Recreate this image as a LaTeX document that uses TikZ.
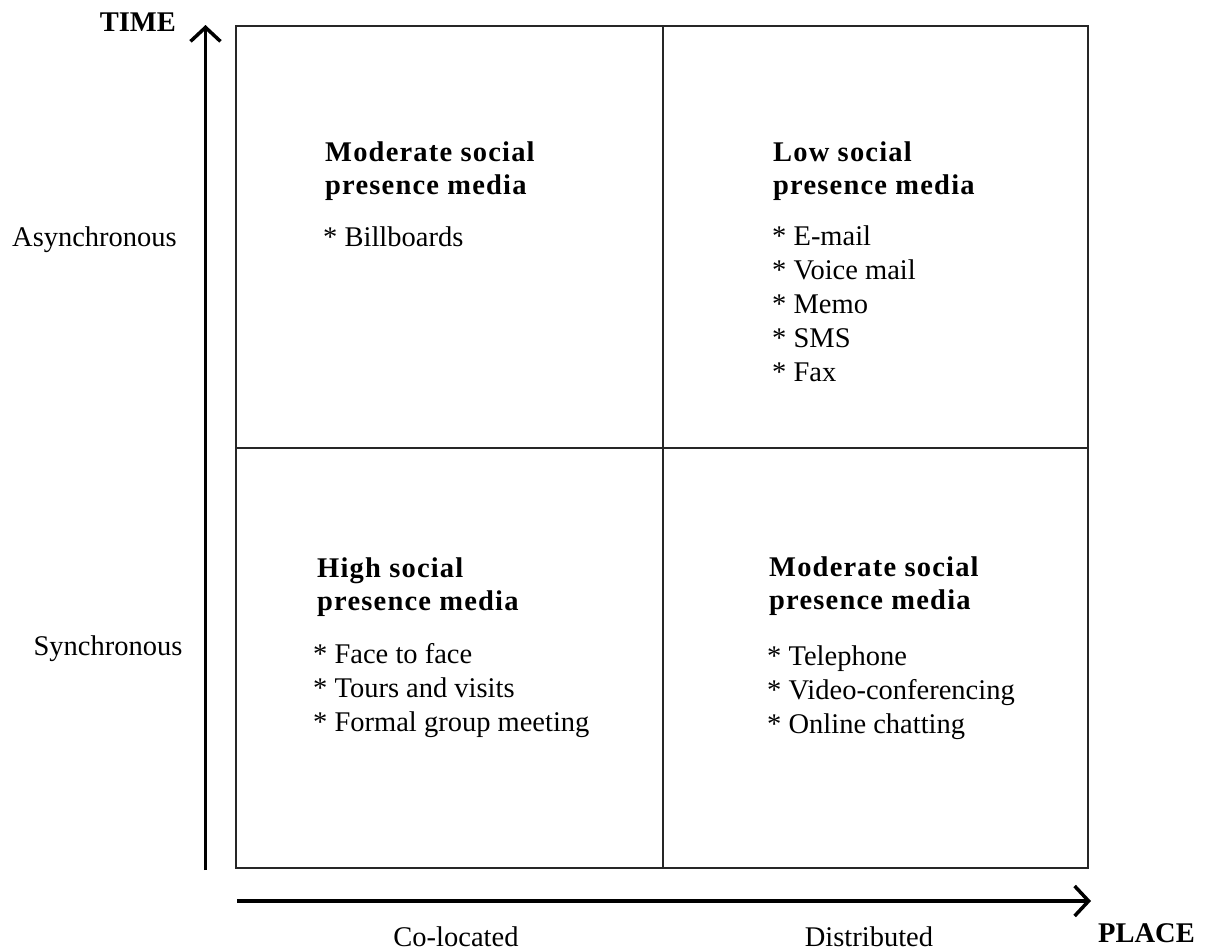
\documentclass[tikz,border=0pt]{standalone}
\usepackage{fontspec}
\setmainfont{Liberation Serif}
\newfontfamily\hdfont[LetterSpace=4.2]{Liberation Serif}
\usetikzlibrary{arrows.meta}
\tikzset{
  reg/.style={font=\fontsize{28.5}{34}\selectfont, inner sep=0pt},
  hd/.style={font=\fontsize{28.5}{34}\selectfont\bfseries, inner sep=0pt},
  qhd/.style={font=\fontsize{28.5}{34}\selectfont\hdfont\bfseries, inner sep=0pt},
  axis/.style={line width=3.5pt, -{Straight Barb[length=14pt,width=30pt,line width=3.5pt]}},
  grid/.style={line width=1.6pt, draw=black!85}
}
\begin{document}
\begin{tikzpicture}[x=1pt,y=-1pt]
\useasboundingbox (0,0) rectangle (1206,951);
% quadrant frame
\draw[grid] (236,26) rectangle (1088,868);
\draw[grid] (663,26) -- (663,868);
\draw[grid] (236,448) -- (1088,448);
% axes
\coordinate (vs) at (205.5,870);
\coordinate (ve) at (205.5,25);
\coordinate (hs) at (237,901);
\coordinate (he) at (1091,901);
\draw[axis] (vs) -- (ve);
\draw[axis] (hs) -- (he);
% axis labels
\node[hd, anchor=base east] (time) at (176,31) {TIME};
\node[hd, anchor=base west] (place) at (1098,942) {PLACE};
\node[reg, anchor=base] (async) at (94.5,246) {Asynchronous};
\node[reg, anchor=base] (sync) at (108,655) {Synchronous};
\node[reg, anchor=base] (coloc) at (456,946) {Co-located};
\node[reg, anchor=base] (distr) at (869,946) {Distributed};
% top left
\node[qhd, anchor=base west] (tlh1) at (325,161) {Moderate social};
\node[qhd, anchor=base west] (tlh2) at (325,194) {presence media};
\node[reg, anchor=base west] (tli1) at (323,246) {* Billboards};
% top right
\node[qhd, anchor=base west] (trh1) at (773,161) {Low social};
\node[qhd, anchor=base west] (trh2) at (773,194) {presence media};
\node[reg, anchor=base west] (tri1) at (772,245) {* E-mail};
\node[reg, anchor=base west] (tri2) at (772,279) {* Voice mail};
\node[reg, anchor=base west] (tri3) at (772,313) {* Memo};
\node[reg, anchor=base west] (tri4) at (772,347) {* SMS};
\node[reg, anchor=base west] (tri5) at (772,381) {* Fax};
% bottom left
\node[qhd, anchor=base west] (blh1) at (317,577) {High social};
\node[qhd, anchor=base west] (blh2) at (317,610) {presence media};
\node[reg, anchor=base west] (bli1) at (313,663) {* Face to face};
\node[reg, anchor=base west] (bli2) at (313,697) {* Tours and visits};
\node[reg, anchor=base west] (bli3) at (313,731) {* Formal group meeting};
% bottom right
\node[qhd, anchor=base west] (brh1) at (769,576) {Moderate social};
\node[qhd, anchor=base west] (brh2) at (769,609) {presence media};
\node[reg, anchor=base west] (bri1) at (767,665) {* Telephone};
\node[reg, anchor=base west] (bri2) at (767,699) {* Video-conferencing};
\node[reg, anchor=base west] (bri3) at (767,733) {* Online chatting};
\end{tikzpicture}
\end{document}
